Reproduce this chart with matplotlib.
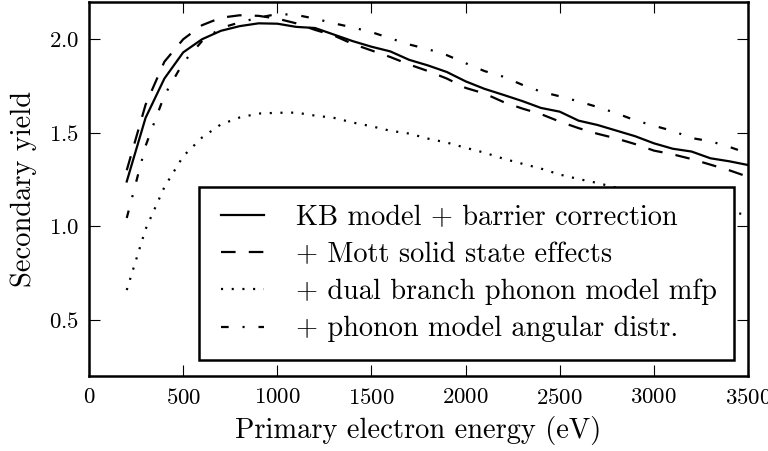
import numpy as np
import matplotlib
matplotlib.use('Agg')
import matplotlib.pyplot as plt
from matplotlib.lines import Line2D
from matplotlib.legend_handler import HandlerLine2D

plt.rcParams['font.family'] = ['cmr10', 'DejaVu Serif']
plt.rcParams['mathtext.fontset'] = 'cm'
plt.rcParams['axes.formatter.use_mathtext'] = True
plt.rcParams['axes.unicode_minus'] = False
plt.rcParams['lines.scale_dashes'] = False

# --- data ---
energy = list(range(200, 3600, 100))

kb_barrier = [1.24, 1.58, 1.79, 1.93, 2.00, 2.045, 2.07, 2.085, 2.083, 2.066,
              2.06, 2.025, 1.99, 1.96, 1.935, 1.89, 1.86, 1.825, 1.775, 1.735,
              1.703, 1.67, 1.633, 1.613, 1.565, 1.542, 1.512, 1.482, 1.444, 1.415,
              1.40, 1.364, 1.348, 1.328]

mott = [1.30, 1.65, 1.88, 2.00, 2.075, 2.115, 2.128, 2.125, 2.11, 2.085,
        2.05, 2.02, 1.975, 1.94, 1.905, 1.865, 1.83, 1.79, 1.74, 1.71,
        1.665, 1.63, 1.60, 1.56, 1.525, 1.495, 1.47, 1.44, 1.405, 1.385,
        1.36, 1.33, 1.30, 1.265]

dual_branch = [0.66, 0.985, 1.21, 1.375, 1.475, 1.545, 1.582, 1.603, 1.607, 1.608,
               1.592, 1.58, 1.555, 1.535, 1.511, 1.496, 1.469, 1.448, 1.42, 1.394,
               1.362, 1.335, 1.309, 1.277, 1.253, 1.232, 1.207, 1.185, 1.16, 1.14,
               1.12, 1.10, 1.08, 1.06]

angular = [1.045, 1.43, 1.70, 1.875, 1.99, 2.06, 2.09, 2.115, 2.135, 2.13,
           2.11, 2.085, 2.063, 2.038, 2.005, 1.972, 1.947, 1.915, 1.872, 1.83,
           1.80, 1.757, 1.72, 1.695, 1.668, 1.638, 1.605, 1.567, 1.538, 1.51,
           1.472, 1.455, 1.425, 1.39]

labels = ['KB model + barrier correction',
          '+ Mott solid state effects',
          '+ dual branch phonon model mfp',
          '+ phonon model angular distr.']

# --- plot ---
fig = plt.figure(figsize=(7.68, 4.51), dpi=100)
ax = fig.add_axes([0.116, 0.166, 0.858, 0.830])

lw = 1.6
ax.plot(energy, kb_barrier, 'k-', lw=lw, label=labels[0])
ax.plot(energy, mott, 'k', lw=lw, dashes=(10.5, 9.5), label=labels[1])
ax.plot(energy, dual_branch, 'k', lw=lw, dashes=(1.5, 6.2), label=labels[2])
ax.plot(energy, angular, 'k', lw=lw, dashes=(5.5, 10, 1.5, 10), label=labels[3])

ax.set_xlim(0, 3500)
ax.set_ylim(0.2, 2.2)
ax.set_xticks(np.arange(0, 3501, 500))
ax.set_yticks([0.5, 1.0, 1.5, 2.0])
ax.tick_params(direction='in', length=8, width=0.8, top=True, right=True,
               labelsize=16.5)
ax.tick_params(axis='x', pad=8.5)
ax.tick_params(axis='y', pad=7)

for sp in ax.spines.values():
    sp.set_linewidth(1.8)

ax.set_xlabel('Primary electron energy (eV)', fontsize=20.5, labelpad=6)
ax.set_ylabel('Secondary yield', fontsize=20.5, labelpad=9)

# extra room left of the legend handles, like the reference
leg = ax.legend(loc='lower right', fontsize=20.4, fancybox=False, framealpha=1,
                handlelength=1.66, handletextpad=1.13, borderpad=0.62,
                labelspacing=0.38, borderaxespad=0,
                bbox_to_anchor=(0.979, 0.043),
                handler_map={Line2D: HandlerLine2D(xpad=0.14)})
leg.get_frame().set_edgecolor('black')
leg.get_frame().set_linewidth(1.8)

fig.savefig('out.png', dpi=100)
